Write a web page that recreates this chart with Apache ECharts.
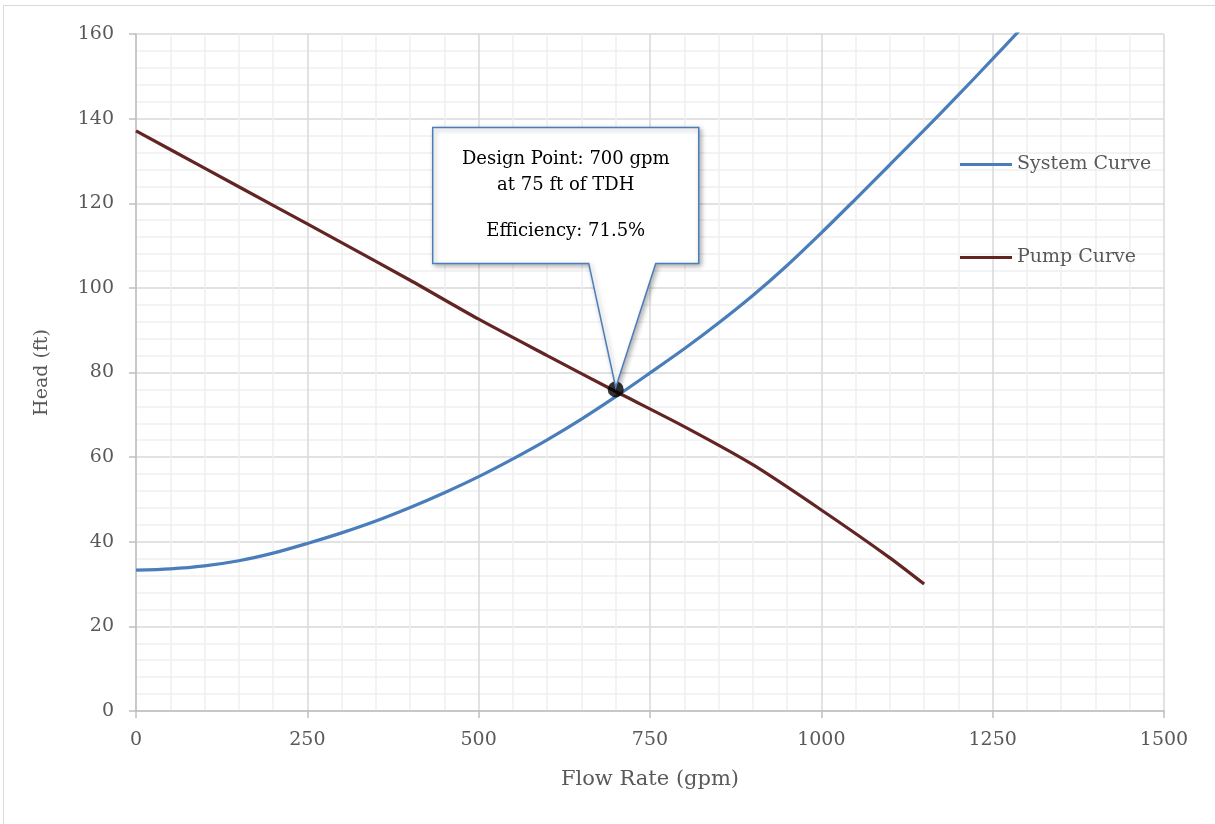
<!DOCTYPE html>
<html>
<head>
<meta charset="utf-8">
<script src="https://cdn.jsdelivr.net/npm/echarts@6/dist/echarts.min.js"></script>
<style>
  html, body { margin: 0; padding: 0; background: #fff; }
  #chart { width: 1215px; height: 824px; }
</style>
</head>
<body>
<div id="chart"></div>
<script>
// flow (gpm) vs head (ft)
var systemFlow = [0, 50, 100, 150, 200, 250, 300, 350, 400, 450, 500, 550, 600, 650, 700, 750, 800, 850, 900, 950, 1000, 1050, 1100, 1150, 1200, 1250, 1290];
var systemHead = [33.3, 33.6, 34.3, 35.5, 37.3, 39.6, 42.1, 44.9, 48.1, 51.6, 55.4, 59.6, 64.1, 69.0, 74.3, 79.9, 85.6, 91.7, 98.2, 105.3, 113.0, 121.0, 129.1, 137.3, 145.6, 154.1, 161.0];
var pumpFlow = [0, 100, 200, 300, 400, 500, 600, 700, 800, 900, 1000, 1100, 1150];
var pumpHead = [137.1, 128.3, 119.5, 110.7, 101.8, 92.6, 84.0, 75.5, 67.2, 58.2, 47.5, 36.2, 30.0];
var designPoint = [700, 76];
var calloutTop = ['Design Point: 700 gpm', 'at 75 ft of TDH'];
var calloutBottom = 'Efficiency: 71.5%';

var textColor = '#595959';
var serif = 'DejaVu Serif';

function pairs(xs, ys) {
    return xs.map(function (x, i) { return [x, ys[i]]; });
}

var chart = echarts.init(document.getElementById('chart'));

var option = {
    animation: false,
    backgroundColor: '#fff',
    grid: { left: 136, right: 51, top: 34, bottom: 113 },
    legend: {
        orient: 'vertical',
        left: 955,
        top: 150,
        itemWidth: 52,
        itemHeight: 3,
        itemGap: 74,
        icon: 'rect',
        textStyle: { fontFamily: serif, fontSize: 19, color: textColor },
        data: ['System Curve', 'Pump Curve']
    },
    xAxis: {
        type: 'value',
        min: 0, max: 1500, interval: 250,
        name: 'Flow Rate (gpm)',
        nameLocation: 'middle',
        nameGap: 58,
        nameTextStyle: { fontFamily: serif, fontSize: 21, color: textColor },
        axisLine: { show: true, lineStyle: { color: '#bfbfbf', width: 1.5 } },
        axisTick: { show: true, length: 7, lineStyle: { color: '#bfbfbf', width: 1.5 } },
        axisLabel: {
            fontFamily: serif, fontSize: 19, color: textColor, margin: 20,
            formatter: function (v) { return String(v); }
        },
        splitLine: { show: true, lineStyle: { color: '#d9d9d9', width: 1.5 } },
        minorTick: { show: false, splitNumber: 5 },
        minorSplitLine: { show: true, lineStyle: { color: '#f0f0f0', width: 1.5 } }
    },
    yAxis: {
        type: 'value',
        min: 0, max: 160, interval: 20,
        name: 'Head (ft)',
        nameLocation: 'middle',
        nameGap: 84,
        nameRotate: 90,
        nameTextStyle: { fontFamily: serif, fontSize: 19, color: textColor },
        axisLine: { show: true, lineStyle: { color: '#bfbfbf', width: 1.5 } },
        axisTick: { show: true, length: 7, lineStyle: { color: '#bfbfbf', width: 1.5 } },
        axisLabel: { fontFamily: serif, fontSize: 19, color: textColor, margin: 22 },
        splitLine: { show: true, lineStyle: { color: '#d9d9d9', width: 1.5 } },
        minorTick: { show: false, splitNumber: 5 },
        minorSplitLine: { show: true, lineStyle: { color: '#f0f0f0', width: 1.5 } }
    },
    series: [
        {
            name: 'System Curve',
            type: 'line',
            data: pairs(systemFlow, systemHead),
            smooth: 0.3,
            showSymbol: false,
            color: '#4a7ebb',
            lineStyle: { width: 3.2, color: '#4a7ebb' }
        },
        {
            name: 'Pump Curve',
            type: 'line',
            data: pairs(pumpFlow, pumpHead),
            smooth: 0.25,
            showSymbol: false,
            color: '#632523',
            lineStyle: { width: 3.2, color: '#632523' }
        },
        {
            name: 'Design Point',
            type: 'scatter',
            data: [designPoint],
            symbolSize: 16,
            itemStyle: { color: '#000' },
            z: 10
        }
    ]
};

chart.setOption(option);

// callout bubble anchored to the design point
var tip = chart.convertToPixel({ gridIndex: 0 }, designPoint);
var bx0 = tip[0] - 183, bx1 = tip[0] + 83, by0 = tip[1] - 262, by1 = tip[1] - 126;
var cx = (bx0 + bx1) / 2;
chart.setOption({
    graphic: [
        {
            type: 'rect',
            shape: { x: 3.5, y: 5.5, width: 1215, height: 830 },
            style: { fill: null, stroke: '#d9d9d9', lineWidth: 1 },
            silent: true, z: -10
        },
        {
            type: 'polygon',
            shape: {
                points: [
                    [bx0, by0], [bx1, by0], [bx1, by1], [tip[0] + 40, by1],
                    [tip[0], tip[1] - 2], [tip[0] - 27, by1], [bx0, by1]
                ]
            },
            style: {
                fill: '#fff', stroke: '#4a7ebb', lineWidth: 1.5,
                shadowBlur: 5, shadowOffsetX: 2, shadowOffsetY: 2, shadowColor: 'rgba(0,0,0,0.3)'
            },
            z: 100
        },
        {
            type: 'text',
            x: cx,
            y: by0 + 19,
            style: {
                text: calloutTop.join('\n'),
                fontFamily: serif, fontSize: 18, lineHeight: 26,
                fill: '#000', align: 'center', verticalAlign: 'top'
            },
            z: 101
        },
        {
            type: 'text',
            x: cx,
            y: by0 + 91,
            style: {
                text: calloutBottom,
                fontFamily: serif, fontSize: 18, lineHeight: 26,
                fill: '#000', align: 'center', verticalAlign: 'top'
            },
            z: 101
        }
    ]
});

window.addEventListener('resize', function () {
    chart.resize();
});
</script>
</body>
</html>
